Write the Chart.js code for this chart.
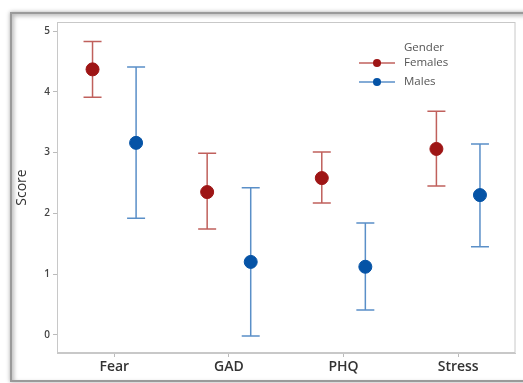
<!DOCTYPE html>
<html>
<head>
<meta charset="utf-8">
<script src="https://cdn.jsdelivr.net/npm/chart.js@4"></script>
<style>
  body { margin: 0; background: #fff; }
  #wrap { position: relative; width: 523px; height: 383px; overflow: hidden; }
  #frame { position: absolute; left: 10px; top: 12px; width: 520px; height: 366px;
           border: 2px solid #9a9a9a; box-shadow: inset 2px 2px 4px #bbb, 0 0 4px #aaa; }
  #myChart { position: absolute; left: 0; top: 0; }
</style>
</head>
<body>
<div id="wrap">
  <div id="frame"></div>
  <canvas id="myChart" width="523" height="383"></canvas>
</div>
<script>
(() => {
  'use strict'

  const categories = ['Fear', 'GAD', 'PHQ', 'Stress'];
  const yTicks = [0, 1, 2, 3, 4, 5];
  const femaleMean = [4.37, 2.35, 2.58, 3.06];
  const femaleLow = [3.91, 1.74, 2.17, 2.45];
  const femaleHigh = [4.83, 2.99, 3.01, 3.68];
  const maleMean = [3.16, 1.20, 1.12, 2.30];
  const maleLow = [1.92, -0.02, 0.41, 1.45];
  const maleHigh = [4.41, 2.42, 1.84, 3.14];

  const shift = 0.19;
  const femaleColor = '#9e1515';
  const femaleBar = '#c0605c';
  const maleColor = '#0553a6';
  const maleBar = '#5a8fc8';

  const toPoints = (vals, lo, hi, dx) =>
    vals.map((v, i) => ({ x: i + dx, y: v, lo: lo[i], hi: hi[i] }));

  // whiskers + frame + legend
  const extras = {
    id: 'extras',
    beforeDatasetsDraw(chart) {
      const { ctx, scales: { x, y }, chartArea } = chart;
      ctx.save();
      ctx.strokeStyle = '#c8c8c8';
      ctx.lineWidth = 1;
      ctx.strokeRect(chartArea.left + 0.5, chartArea.top + 0.5,
        chartArea.right - chartArea.left - 1, chartArea.bottom - chartArea.top - 1);
      chart.data.datasets.forEach(ds => {
        ctx.strokeStyle = ds.barColor;
        ctx.lineWidth = 1.5;
        ds.data.forEach(p => {
          const px = x.getPixelForValue(p.x);
          const y1 = y.getPixelForValue(p.lo);
          const y2 = y.getPixelForValue(p.hi);
          ctx.beginPath();
          ctx.moveTo(px, y1); ctx.lineTo(px, y2);
          ctx.moveTo(px - 9, y1); ctx.lineTo(px + 9, y1);
          ctx.moveTo(px - 9, y2); ctx.lineTo(px + 9, y2);
          ctx.stroke();
        });
      });
      ctx.restore();
    },
    afterDatasetsDraw(chart) {
      const { ctx } = chart;
      ctx.save();
      ctx.font = '11.5px "Open Sans", sans-serif';
      ctx.fillStyle = '#555';
      ctx.textBaseline = 'middle';
      ctx.fillText('Gender', 404, 48);
      const rows = [['Females', femaleColor, femaleBar, 63], ['Males', maleColor, maleBar, 82]];
      rows.forEach(([label, c, bc, yy]) => {
        ctx.strokeStyle = bc;
        ctx.lineWidth = 1.5;
        ctx.beginPath(); ctx.moveTo(359, yy); ctx.lineTo(395, yy); ctx.stroke();
        ctx.fillStyle = c;
        ctx.beginPath(); ctx.arc(377, yy, 4, 0, Math.PI * 2); ctx.fill();
        ctx.fillStyle = '#555';
        ctx.fillText(label, 404, yy);
      });
      ctx.restore();
    }
  };

  new Chart(document.getElementById('myChart'), {
    type: 'scatter',
    data: {
      datasets: [{
        label: 'Females',
        data: toPoints(femaleMean, femaleLow, femaleHigh, -shift),
        backgroundColor: femaleColor,
        borderColor: femaleColor,
        barColor: femaleBar,
        pointRadius: 6.5,
        pointHoverRadius: 6.5
      }, {
        label: 'Males',
        data: toPoints(maleMean, maleLow, maleHigh, shift),
        backgroundColor: maleColor,
        borderColor: maleColor,
        barColor: maleBar,
        pointRadius: 6.5,
        pointHoverRadius: 6.5
      }]
    },
    options: {
      responsive: false,
      animation: false,
      layout: { padding: { left: 14, top: 22, right: 5, bottom: 3 } },
      plugins: { legend: { display: false }, tooltip: { enabled: false } },
      scales: {
        x: {
          type: 'linear',
          min: -0.5,
          max: 3.5,
          afterBuildTicks: s => { s.ticks = categories.map((c, i) => ({ value: i })); },
          afterFit: s => { s.height = 27; },
          ticks: {
            autoSkip: false,
            maxRotation: 0,
            padding: 2,
            color: '#333',
            font: { family: '"Open Sans", sans-serif', size: 14, weight: '600' },
            callback: v => categories[v]
          },
          grid: { drawOnChartArea: false, tickLength: 4, color: '#bbb' },
          border: { color: '#c8c8c8' }
        },
        y: {
          min: -0.3,
          max: 5.15,
          afterBuildTicks: s => { s.ticks = yTicks.map(v => ({ value: v })); },
          afterFit: s => { s.width = 43; },
          ticks: {
            padding: 3,
            color: '#444',
            font: { family: '"Open Sans", sans-serif', size: 10, weight: '600' }
          },
          grid: { drawOnChartArea: false, tickLength: 4, color: '#bbb' },
          border: { color: '#c8c8c8' },
          title: {
            display: true,
            text: 'Score',
            color: '#333',
            padding: { top: 0, bottom: 2 },
            font: { family: '"Open Sans", sans-serif', size: 14 }
          }
        }
      }
    },
    plugins: [extras]
  });
})()
</script>
</body>
</html>
